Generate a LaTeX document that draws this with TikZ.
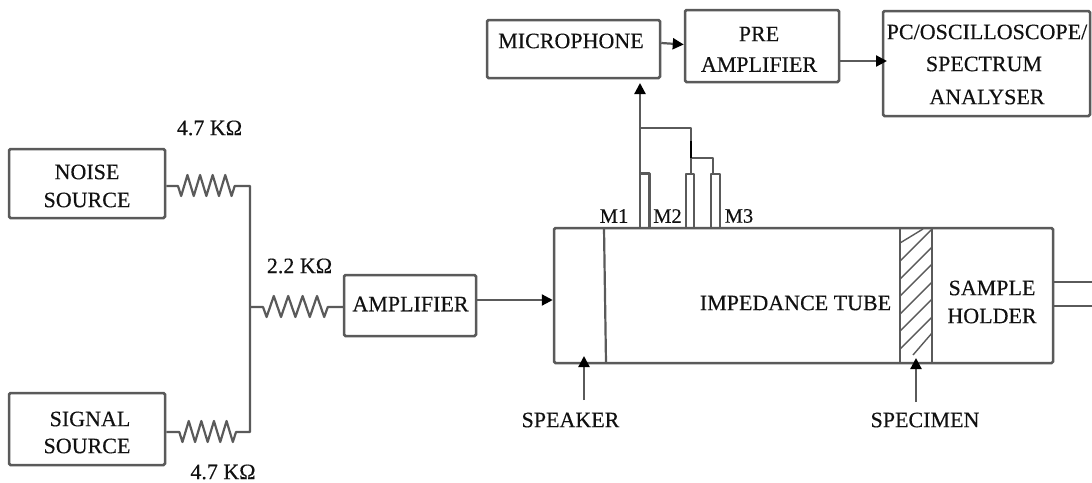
\documentclass[tikz,border=0pt]{standalone}
\usepackage{fontspec}
\setmainfont[FakeBold=0.3]{Liberation Serif}
\usetikzlibrary{arrows.meta}
\definecolor{wire}{HTML}{5A5A5A}
\definecolor{ink}{HTML}{111111}
\tikzset{
  x=1pt,y=-1pt,
  wireline/.style={draw=wire,line width=2.2pt,line join=round},
  arrowline/.style={wireline,-{Triangle[length=11pt,width=11pt,color=black]}},
  hatchline/.style={draw=wire,line width=1.4pt},
  blockbox/.style={draw=wire,line width=2.5pt,rounded corners=1.5pt,inner sep=0pt,fill=white},
  label/.style={inner sep=0pt,align=center,text=ink,font=\fontsize{22}{28}\selectfont},
  smalllabel/.style={label,font=\fontsize{20.5}{25}\selectfont},
  zig/.style={insert path={-- ++(#1*0.5,10) -- ++(#1,-21) -- ++(#1,21) -- ++(#1,-21) -- ++(#1,21) -- ++(#1,-21) -- ++(#1,21) -- ++(#1,-21) -- ++(#1,21) -- ++(#1*0.5,-10)}},
}
\begin{document}
\begin{tikzpicture}
\useasboundingbox[fill=white] (0,0) rectangle (1092,482);
% blocks
\node[blockbox,minimum width=156pt,minimum height=69pt] (noise) at (87,183.5) {};
\node[blockbox,minimum width=156pt,minimum height=72pt] (signal) at (87,429) {};
\node[blockbox,minimum width=132pt,minimum height=61pt] (amp) at (410,305.5) {};
\node[blockbox,minimum width=173pt,minimum height=58pt] (mic) at (573.5,49) {};
\node[blockbox,minimum width=154pt,minimum height=72pt] (pre) at (762,46) {};
\node[blockbox,minimum width=207pt,minimum height=105pt] (pc) at (986.5,63.5) {};
\node[blockbox,minimum width=499pt,minimum height=135pt] (tube) at (803.5,295.5) {};
% block texts
\node[label] (tnoise) at (87,186) {NOISE\\SOURCE};
\node[label] (tsignal1) at (90,419) {SIGNAL};
\node[label] (tsignal2) at (87,446) {SOURCE};
\node[label] (tamp) at (410.5,304) {AMPLIFIER};
\node[label] (tmic) at (571,41) {MICROPHONE};
\node[label] (tpre1) at (759,34) {PRE};
\node[label] (tpre2) at (759,64.5) {AMPLIFIER};
\node[label] (tpc1) at (987,32) {PC/OSCILLOSCOPE/};
\node[label] (tpc2) at (984,64) {SPECTRUM};
\node[label] (tpc3) at (987,97) {ANALYSER};
% tube interior
\coordinate (spkT) at (604,228); \coordinate (spkB) at (606,363);
\draw[wireline] (spkT) -- (spkB);
\coordinate (specTL) at (900,228); \coordinate (specBL) at (900,363);
\coordinate (specTR) at (932,228); \coordinate (specBR) at (932,363);
\draw[wireline] (specTL) -- (specBL) (specTR) -- (specBR);
\foreach \xa/\ya/\xb/\yb in {900/243/923/229, 900/261/932/229, 900/279/932/247, 900/296/932/264, 900/314/932/282, 900/331/932/299, 900/349/932/317, 913/355/932/333}
  \draw[hatchline] (\xa,\ya) -- (\xb,\yb);
\node[label] (imp) at (795.5,303) {IMPEDANCE TUBE};
\node[label] (hold) at (992,302) {SAMPLE\\HOLDER};
% pipes
\coordinate (p1a) at (640,228); \coordinate (p1b) at (640,173.5); \coordinate (p1c) at (649.5,173.5); \coordinate (p1d) at (649.5,228);
\coordinate (p2a) at (686,228); \coordinate (p2b) at (686,174); \coordinate (p2c) at (694,174); \coordinate (p2d) at (694,228);
\coordinate (p3a) at (711,228); \coordinate (p3b) at (711,174); \coordinate (p3c) at (720,174); \coordinate (p3d) at (720,228);
\draw[wireline] (p1b) -- (p1c) -- (p1d);
\draw[wireline] (p2a) -- (p2b) -- (p2c) -- (p2d);
\draw[wireline] (p3a) -- (p3b) -- (p3c) -- (p3d);
\coordinate (micin) at (640,83);
\draw[arrowline] (p1a) -- (micin);
\coordinate (j1) at (640,128); \coordinate (j2) at (691,128); \coordinate (j3) at (691,174);
\coordinate (j4) at (691,158); \coordinate (j5) at (713,158); \coordinate (j6) at (713,174);
\draw[wireline] (j1) -- (j2) -- (j3);
\draw[wireline] (j4) -- (j5) -- (j6);
\draw[draw=black,line width=2.4pt] (691,141) -- (j4);
\node[smalllabel] (m1) at (614,216) {M1};
\node[smalllabel] (m2) at (667.5,216) {M2};
\node[smalllabel] (m3) at (739,216) {M3};
% connections
\draw[arrowline] (mic.east |- 0,43) -- (pre.west |- 0,44.5);
\coordinate (pctip) at (887,61);
\draw[arrowline] (pre.east |- pctip) -- (pctip);
\draw[arrowline] (amp.east |- 0,300) -- (tube.west |- 0,300);
% resistors
\coordinate (bus1) at (250,186); \coordinate (bus2) at (250,432); \coordinate (busm) at (250,307);
\draw[wireline] (noise.east |- bus1) -- (178,186) [zig=6.3] -- (bus1) -- (bus2) -- (236,432) [zig=-6.3] -- (signal.east |- bus2);
\draw[wireline] (busm) -- (263,307) [zig=7.2] -- (amp.west |- busm);
\node[label] (r1) at (209.5,128) {4.7 KΩ};
\node[label] (r2) at (299.5,266) {2.2 KΩ};
\node[label] (r3) at (223,472) {4.7 KΩ};
% outlet
\coordinate (o1) at (1092,282); \coordinate (o2) at (1092,306);
\draw[wireline] (tube.east |- o1) -- (o1);
\draw[wireline] (tube.east |- o2) -- (o2);
% speaker / specimen
\node[label] (spk) at (570.5,420) {SPEAKER};
\node[label] (spc) at (925,420) {SPECIMEN};
\coordinate (spkS) at (584,400); \coordinate (spkE) at (584,356);
\coordinate (spcS) at (916,402); \coordinate (spcE) at (916,358);
\draw[arrowline] (spkS) -- (spkE);
\draw[arrowline] (spcS) -- (spcE);
\end{tikzpicture}
\end{document}
